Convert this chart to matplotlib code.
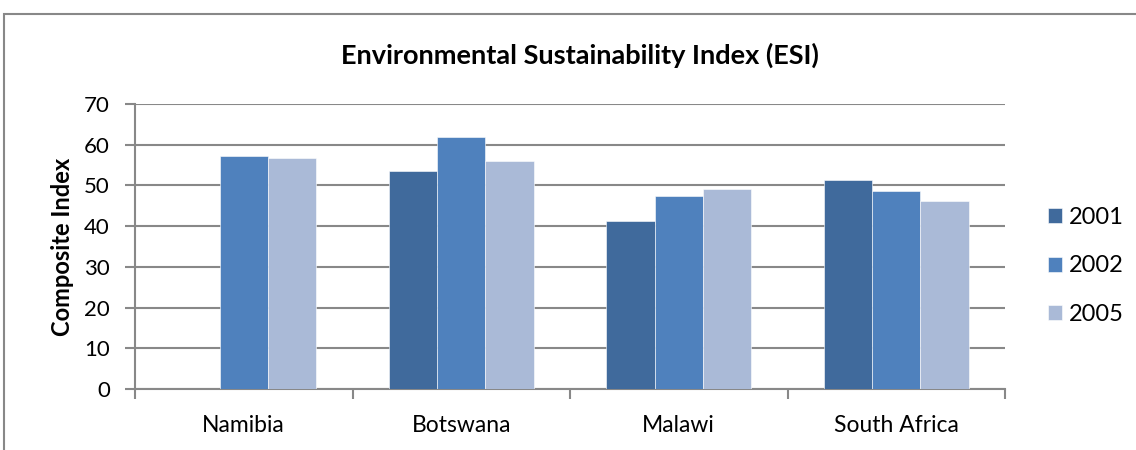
import matplotlib
matplotlib.use("Agg")
import matplotlib.pyplot as plt
import numpy as np
from matplotlib.patches import Rectangle

countries = ["Namibia", "Botswana", "Malawi", "South Africa"]
years = ["2001", "2002", "2005"]
esi_2001 = [np.nan, 53.6, 41.3, 51.4]
esi_2002 = [57.3, 61.8, 47.3, 48.7]
esi_2005 = [56.7, 55.9, 49.2, 46.2]
yticks = [0, 10, 20, 30, 40, 50, 60, 70]

colors = ["#406A9C", "#4F81BD", "#AABAD7"]
grid_col = "#888888"

plt.rcParams["font.family"] = ["Lato", "DejaVu Sans"]

W, H = 1136, 450
fig = plt.figure(figsize=(W / 100, H / 100), dpi=100)

# outer chart frame
fig.patches.append(Rectangle((4 / W, -0.1), 1.2, (H - 14) / H + 0.1,
                             transform=fig.transFigure, fill=False,
                             edgecolor=grid_col, linewidth=1.5))

ax = fig.add_axes([135 / W, (H - 389) / H, 870 / W, 285 / H])

x = np.arange(len(countries))
bw = 1 / 4.5
series = [esi_2001, esi_2002, esi_2005]
for i, (vals, yr, c) in enumerate(zip(series, years, colors)):
    ax.bar(x + (i - 1) * bw, vals, width=bw, color=c, label=yr,
           edgecolor="white", linewidth=0.4, zorder=3)

ax.set_xlim(-0.5, len(countries) - 0.5)
ax.set_ylim(0, 70)
ax.set_yticks(yticks)
ax.yaxis.grid(True, color=grid_col, linewidth=1.5, zorder=0)
ax.set_axisbelow(True)

ax.set_xticks(x)
ax.set_xticklabels(countries, fontsize=16.5)
ax.tick_params(axis="x", length=0, pad=19)
ax.set_xticks(np.arange(len(countries) + 1) - 0.5, minor=True)
ax.tick_params(axis="x", which="minor", length=7, width=1.5, color=grid_col)
ax.tick_params(axis="y", length=7, width=1.5, color=grid_col, labelsize=16, pad=11)

for s in ["top", "right"]:
    ax.spines[s].set_visible(False)
for s in ["left", "bottom"]:
    ax.spines[s].set_color(grid_col)
    ax.spines[s].set_linewidth(1.5)

ax.set_ylabel("Composite Index", fontsize=17, fontweight="bold", labelpad=7)
fig.text(580 / W, 1 - 55 / H, "Environmental Sustainability Index (ESI)",
         ha="center", va="center", fontsize=19.5, fontweight="bold")

fig.legend(*ax.get_legend_handles_labels(), loc="center left",
           bbox_to_anchor=(1048 / W, (H - 266) / H), frameon=False,
           fontsize=17, handlelength=0.6, handleheight=0.6, labelspacing=1.17,
           handletextpad=0.3, borderpad=0, borderaxespad=0)

fig.savefig("out.png", dpi=100)
